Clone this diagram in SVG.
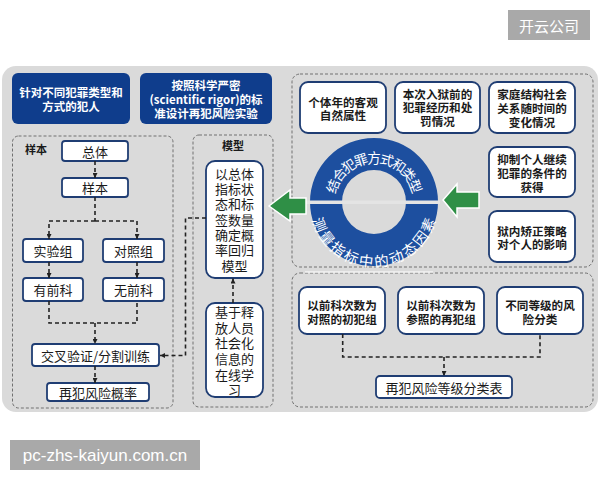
<svg xmlns="http://www.w3.org/2000/svg" width="600" height="480" viewBox="0 0 600 480">
<defs>
<style>
text{font-family:"Noto Sans CJK SC","Noto Sans",sans-serif;fill:#1a1a1a;text-anchor:middle;dominant-baseline:central}
.hdr{fill:#0f3d8c}
.hdr-t{fill:#fff;font-size:11.5px;font-weight:bold}
.reg{fill:none;stroke:#707070;stroke-width:1;stroke-dasharray:3 2}
.bx{fill:#fff;stroke:#1f3d73;stroke-width:1.8}
.t13{font-size:13px}
.t12{font-size:11.6px;font-weight:bold}
.lbl{font-size:11px;font-weight:bold}
.con{fill:none;stroke:#222;stroke-width:1.6;stroke-dasharray:4 3}
.arr{fill:#2f8f46;stroke:#fff;stroke-width:1.5;stroke-linejoin:miter}
.ring-t{fill:#fff;font-size:13.5px}
.wm{fill:#a9a9a9}
.wm-t{fill:#fff}
</style>
<marker id="ah" viewBox="0 0 6 6" refX="6" refY="3" markerWidth="5" markerHeight="5" markerUnits="userSpaceOnUse" orient="auto">
<path d="M0 0 L6 3 L0 6 Z" fill="#222"/>
</marker>
<path id="topArc" d="M 329 202 A 45 45 0 0 1 419 202"/>
<path id="botArc" d="M 317 203 A 57 57 0 0 0 431 203"/>
</defs>

<rect x="0" y="0" width="600" height="480" fill="#fff"/>
<rect x="2" y="66" width="596" height="346" rx="14" fill="#dadada"/>

<!-- headers -->
<g id="header1">
<rect class="hdr" x="12" y="73" width="118" height="51" rx="6"/>
<text class="hdr-t" x="71" y="92">针对不同犯罪类型和</text>
<text class="hdr-t" x="71" y="106">方式的犯人</text>
</g>
<g id="header2">
<rect class="hdr" x="140" y="73" width="132" height="51" rx="6"/>
<text class="hdr-t" x="206" y="85">按照科学严密</text>
<text class="hdr-t" x="206" y="99">(scientific rigor)的标</text>
<text class="hdr-t" x="206" y="112.7">准设计再犯风险实验</text>
</g>

<!-- regions -->
<g id="region-sample">
<rect class="reg" x="12.5" y="136" width="160.5" height="272" rx="6"/>
<text class="lbl" x="36" y="149">样本</text>
</g>
<g id="region-model">
<rect class="reg" x="193" y="135" width="80" height="272" rx="6"/>
<text class="lbl" x="233" y="145">模型</text>
</g>
<rect class="reg" x="292" y="74" width="301" height="193" rx="8"/>
<rect class="reg" x="292" y="273" width="301" height="134" rx="8"/>
<rect x="305" y="271.3" width="128" height="1.4" fill="#f6f6f6"/>

<!-- left nodes -->
<g id="n-zongti"><rect class="bx" x="62" y="141" width="66" height="20" rx="3"/><text class="t13" x="95" y="151">总体</text></g>
<g id="n-yangben"><rect class="bx" x="62" y="178" width="66" height="19" rx="3"/><text class="t13" x="95" y="187.5">样本</text></g>
<g id="n-shiyan"><rect class="bx" x="23" y="239" width="60" height="23" rx="3"/><text class="t13" x="53" y="250.5">实验组</text></g>
<g id="n-duizhao"><rect class="bx" x="103" y="239" width="61" height="23" rx="3"/><text class="t13" x="133.5" y="250.5">对照组</text></g>
<g id="n-youqianke"><rect class="bx" x="23" y="278" width="60" height="23" rx="3"/><text class="t13" x="53" y="289.5">有前科</text></g>
<g id="n-wuqianke"><rect class="bx" x="103" y="278" width="61" height="23" rx="3"/><text class="t13" x="133.5" y="289.5">无前科</text></g>
<g id="n-jiaocha"><rect class="bx" x="32" y="344" width="127" height="22" rx="3"/><text class="t13" x="95.5" y="355">交叉验证/分割训练</text></g>
<g id="n-gailv"><rect class="bx" x="47" y="383" width="102" height="18" rx="3"/><text class="t13" x="98" y="392">再犯风险概率</text></g>

<!-- model nodes -->
<g id="n-model1">
<rect class="bx" x="206" y="161" width="57" height="117" rx="9"/>
<text class="t13" x="234.5" y="173.3">以总体</text>
<text class="t13" x="234.5" y="188.6">指标状</text>
<text class="t13" x="234.5" y="203.9">态和标</text>
<text class="t13" x="234.5" y="219.2">签数量</text>
<text class="t13" x="234.5" y="234.5">确定概</text>
<text class="t13" x="234.5" y="249.8">率回归</text>
<text class="t13" x="234.5" y="265.1">模型</text>
</g>
<g id="n-model2">
<rect class="bx" x="206" y="303" width="57" height="94" rx="9"/>
<text class="t13" x="234.5" y="311.7">基于释</text>
<text class="t13" x="234.5" y="327.3">放人员</text>
<text class="t13" x="234.5" y="342.9">社会化</text>
<text class="t13" x="234.5" y="358.5">信息的</text>
<text class="t13" x="234.5" y="374.1">在线学</text>
<text class="t13" x="234.5" y="389.7">习</text>
</g>

<!-- right top nodes -->
<g id="n-a"><rect class="bx" x="300" y="82" width="86" height="51" rx="8"/>
<text class="t12" x="343" y="101.5">个体年的客观</text><text class="t12" x="343" y="115">自然属性</text></g>
<g id="n-b"><rect class="bx" x="395" y="82" width="85" height="51" rx="8"/>
<text class="t12" x="437.5" y="93.5">本次入狱前的</text><text class="t12" x="437.5" y="107.3">犯罪经历和处</text><text class="t12" x="437.5" y="121.3">罚情况</text></g>
<g id="n-c"><rect class="bx" x="489" y="82" width="86" height="51" rx="8"/>
<text class="t12" x="532" y="94">家庭结构社会</text><text class="t12" x="532" y="108">关系随时间的</text><text class="t12" x="532" y="122">变化情况</text></g>
<g id="n-d"><rect class="bx" x="489" y="147" width="86" height="50" rx="8"/>
<text class="t12" x="532" y="159">抑制个人继续</text><text class="t12" x="532" y="173">犯罪的条件的</text><text class="t12" x="532" y="187">获得</text></g>
<g id="n-e"><rect class="bx" x="489" y="211" width="86" height="51" rx="8"/>
<text class="t12" x="532" y="230.5">狱内矫正策略</text><text class="t12" x="532" y="244">对个人的影响</text></g>

<!-- ring -->
<g id="n-ring">
<path fill="#1d4f9f" fill-rule="evenodd" d="M 310 202 A 64 64 0 1 1 438 202 A 64 64 0 1 1 310 202 Z M 342 202 A 32 32 0 1 0 406 202 A 32 32 0 1 0 342 202 Z"/>
<rect x="306" y="200.5" width="134" height="3.5" fill="#e4e4e4"/>
<text class="ring-t" dominant-baseline="auto"><textPath href="#topArc" startOffset="50%">结合犯罪方式和类型</textPath></text>
<text class="ring-t" dominant-baseline="auto" style="font-size:14.5px" letter-spacing="0.5"><textPath href="#botArc" startOffset="50%">测量指标中的动态因素</textPath></text>
</g>

<!-- green arrows -->
<g id="arrow-left"><polygon class="arr" points="269,206 290,190 290,198 306,198 306,214 290,214 290,221"/></g>
<g id="arrow-right"><polygon class="arr" points="443,200 457,184 457,192 479,192 479,208 457,208 457,217"/></g>

<!-- bottom right nodes -->
<g id="n-f"><rect class="bx" x="299" y="287" width="86" height="47" rx="8"/>
<text class="t12" x="342" y="304.5">以前科次数为</text><text class="t12" x="342" y="318.5">对照的初犯组</text></g>
<g id="n-g"><rect class="bx" x="398" y="287" width="86" height="47" rx="8"/>
<text class="t12" x="441" y="304.5">以前科次数为</text><text class="t12" x="441" y="318.5">参照的再犯组</text></g>
<g id="n-h"><rect class="bx" x="497" y="287" width="86" height="47" rx="8"/>
<text class="t12" x="540" y="304.5">不同等级的风</text><text class="t12" x="540" y="318.5">险分类</text></g>
<g id="n-i"><rect class="bx" x="376" y="376" width="136" height="22" rx="4"/>
<text class="t13" x="444" y="387">再犯风险等级分类表</text></g>

<!-- connectors -->
<g id="connectors">
<path class="con" d="M95 161 V178" marker-end="url(#ah)"/>
<path class="con" d="M95 197 V221"/>
<path class="con" d="M95 221 H49 V239" marker-end="url(#ah)"/>
<path class="con" d="M95 221 H137 V239" marker-end="url(#ah)"/>
<path class="con" d="M49 262 V278" marker-end="url(#ah)"/>
<path class="con" d="M137 262 V278" marker-end="url(#ah)"/>
<path class="con" d="M49 301 V323 H137 V301"/>
<path class="con" d="M95 323 V344" marker-end="url(#ah)"/>
<path class="con" d="M95 366 V383" marker-end="url(#ah)"/>
<path class="con" d="M206 218 H185.5 V355.5 H160" marker-end="url(#ah)"/>
<path class="con" d="M233 303 V278.5" marker-end="url(#ah)"/>
<path class="con" d="M342.7 334 V357 H540 V334"/>
<path class="con" d="M444 357 V376" marker-end="url(#ah)"/>
</g>

<!-- watermarks -->
<rect class="wm" x="508" y="10" width="82" height="30"/>
<text class="wm-t" x="549" y="25" style="font-size:15px">开云公司</text>
<rect class="wm" x="10" y="440" width="190" height="30"/>
<text class="wm-t" x="105" y="455" style="font-family:'Liberation Sans',sans-serif;font-size:17px">pc-zhs-kaiyun.com.cn</text>
</svg>
